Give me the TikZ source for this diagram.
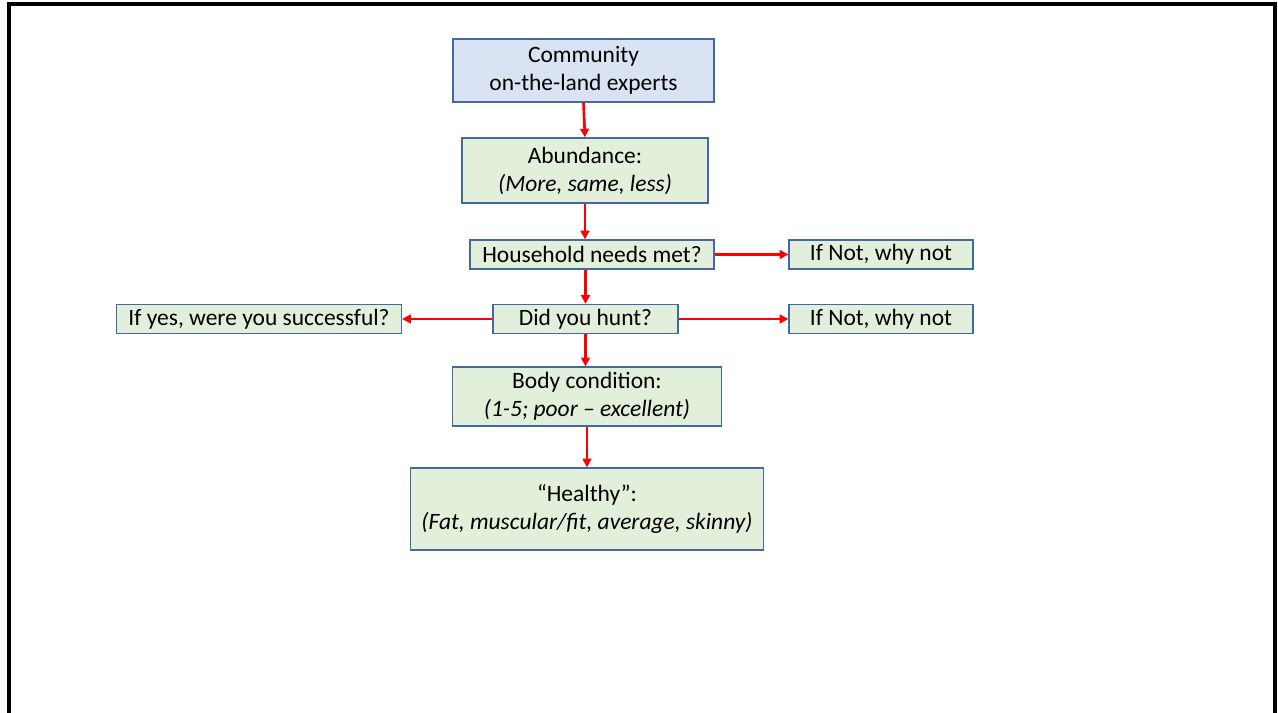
\documentclass[tikz,border=0pt]{standalone}
\usepackage{fontspec}
\setmainfont{Carlito}
\usetikzlibrary{arrows.meta}

\definecolor{boxline}{RGB}{68,105,160}
\definecolor{bluefill}{RGB}{218,227,243}
\definecolor{greenfill}{RGB}{226,239,218}
\definecolor{arrowred}{RGB}{255,0,0}

\tikzset{every picture/.style={line width=0.75pt}}
\tikzset{
  qbox/.style={draw=boxline, line width=0.9pt, fill=greenfill, inner sep=0pt,
    align=center, font=\fontsize{17.6}{21}\selectfont},
  redarrow/.style={draw=arrowred, line width=2pt, -{Triangle[length=6.5pt,width=6.5pt]}}
}

\begin{document}
\begin{tikzpicture}[x=0.75pt,y=0.75pt,yscale=-1,xscale=1]
\useasboundingbox (0,0) rectangle (1278,713);

%Frame
\draw [line width=2.4pt] (9,713) -- (9,4) -- (1275,4) -- (1275,713) ;

% Text Nodes
\node [qbox, fill=bluefill, minimum width=195.75pt, minimum height=47.25pt] (experts) at (583.5,70.5) {Community\\on-the-land experts};
\node [qbox, minimum width=184.5pt, minimum height=48.75pt] (abundance) at (585,170.5) {Abundance:\\\textit{(More, same, less)}};
\node [qbox, minimum width=183pt, minimum height=21.75pt] (needs) at (592,254.5) {Household needs met?};
\node [qbox, minimum width=138pt, minimum height=21.75pt] (whynota) at (881,254.5) {If Not, why not};
\node [qbox, minimum width=138.75pt, minimum height=21.75pt] (hunt) at (585.5,319) {Did you hunt?};
\node [qbox, minimum width=138pt, minimum height=21.75pt] (whynotb) at (881,319) {If Not, why not};
\node [qbox, minimum width=213.75pt, minimum height=21.75pt] (success) at (259,319) {If yes, were you successful?};
\node [qbox, minimum width=201.75pt, minimum height=44.25pt] (body) at (587,396.5) {Body condition:\\\textit{(1-5; poor -- excellent)}};
\node [qbox, minimum width=264.75pt, minimum height=61.5pt] (healthy) at (587,509) {``Healthy'':\\\textit{(Fat, muscular/fit, average, skinny)}};

%Arrows
\draw [redarrow] (experts.south) -- (abundance.north) ;
\draw [redarrow] (abundance.south) -- (abundance.south |- needs.north) ;
\draw [redarrow] (hunt.north |- needs.south) -- (hunt.north) ;
\draw [redarrow] (needs.east) -- (whynota.west) ;
\draw [redarrow] (hunt.east) -- (whynotb.west) ;
\draw [redarrow] (hunt.west) -- (success.east) ;
\draw [redarrow] (hunt.south) -- (hunt.south |- body.north) ;
\draw [redarrow] (body.south) -- (healthy.north) ;

\end{tikzpicture}
\end{document}
